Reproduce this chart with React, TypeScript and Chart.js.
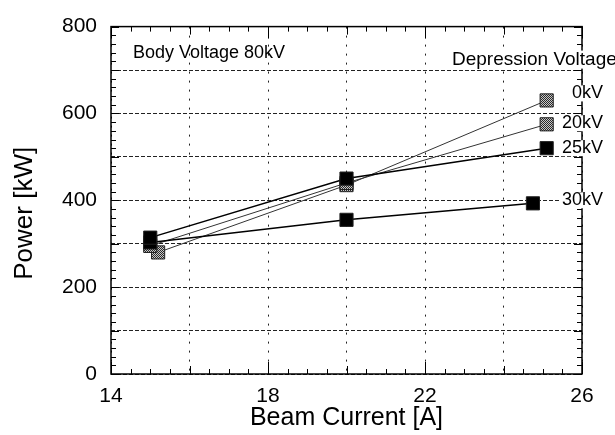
import React, { useEffect, useRef } from "react";
import { Chart, registerables } from "chart.js";

Chart.register(...registerables);

// ---- data ----
const seriesNames = ["25kV", "30kV", "20kV", "0kV"];
const current25 = [15, 20, 25.1];
const power25 = [314, 450, 520];
const current30 = [15, 20, 24.75];
const power30 = [303, 355, 393];
const current20 = [15, 20, 25.1];
const power20 = [295, 440, 575];
const current0 = [15.2, 20, 25.1];
const power0 = [280, 435, 630];
const xTickLabels = [14, 18, 22, 26];
const yTickLabels = [0, 200, 400, 600, 800];
const bodyVoltageText = "Body Voltage 80kV";
const depressionText = "Depression Voltage";
const xTitle = "Beam Current [A]";
const yTitle = "Power [kW]";

const FONT = '"Liberation Sans", Arial, Helvetica, sans-serif';

function greyPattern(): CanvasPattern | string {
  const c = document.createElement("canvas");
  c.width = 2;
  c.height = 2;
  const g = c.getContext("2d");
  if (!g) return "#888";
  g.fillStyle = "#c8c8c8";
  g.fillRect(0, 0, 2, 2);
  g.fillStyle = "#2a2a2a";
  g.fillRect(0, 0, 1, 1);
  g.fillRect(1, 1, 1, 1);
  const p = g.createPattern(c, "repeat");
  return p || "#888";
}

const labelNudge: Record<string, number> = { "0kV": -7, "20kV": -1, "25kV": 0, "30kV": -3 };

function textWithBg(ctx: CanvasRenderingContext2D, text: string, x: number, y: number, align: "left" | "right", h: number) {
  const w = ctx.measureText(text).width;
  const left = align === "left" ? x : x - w;
  ctx.fillStyle = "#fff";
  ctx.fillRect(left - 2, y - h / 2, w + 4, h);
  ctx.fillStyle = "#000";
  ctx.textAlign = align;
  ctx.fillText(text, x, y);
}

const framePlugin = {
  id: "frameAndText",
  afterDraw(chart: any) {
    const { ctx, chartArea: a, scales } = chart;
    const x = scales.x;
    const y = scales.y;
    ctx.save();
    ctx.setLineDash([]);
    ctx.strokeStyle = "#000";
    // inward ticks
    ctx.lineWidth = 1;
    ctx.beginPath();
    for (let i = 0; i <= 24; i++) {
      const v = 14 + i * 0.5;
      const px = Math.round(x.getPixelForValue(v)) + 0.5;
      const len = i % 8 === 0 ? 12 : i % 4 === 0 ? 8 : 5;
      ctx.moveTo(px, a.bottom);
      ctx.lineTo(px, a.bottom - len);
      ctx.moveTo(px, a.top);
      ctx.lineTo(px, a.top + len);
    }
    for (let i = 0; i <= 40; i++) {
      const v = i * 20;
      const py = Math.round(y.getPixelForValue(v)) + 0.5;
      const len = i % 5 === 0 ? 8 : 5;
      ctx.moveTo(a.left, py);
      ctx.lineTo(a.left + len, py);
      ctx.moveTo(a.right, py);
      ctx.lineTo(a.right - len, py);
    }
    ctx.stroke();
    // frame
    ctx.lineWidth = 1.5;
    ctx.strokeRect(a.left, a.top, a.right - a.left, a.bottom - a.top);

    // y axis title
    ctx.fillStyle = "#000";
    ctx.save();
    ctx.translate(a.left - 86, (a.top + a.bottom) / 2 + 13);
    ctx.rotate(-Math.PI / 2);
    ctx.font = `26px ${FONT}`;
    ctx.textAlign = "center";
    ctx.textBaseline = "middle";
    ctx.fillText(yTitle, 0, 0);
    ctx.restore();

    // annotations
    ctx.textAlign = "left";
    ctx.textBaseline = "alphabetic";
    ctx.font = `18px ${FONT}`;
    ctx.fillText(bodyVoltageText, a.left + 22, a.top + 31);
    ctx.font = `19px ${FONT}`;
    ctx.textBaseline = "middle";
    textWithBg(ctx, depressionText, a.right - 130, a.top + 33, "left", 18);

    ctx.font = `18px ${FONT}`;
    ctx.textBaseline = "middle";
    chart.data.datasets.forEach((ds: any, i: number) => {
      const meta = chart.getDatasetMeta(i);
      const last = meta.data[meta.data.length - 1];
      if (!last) return;
      textWithBg(ctx, ds.label, a.right + 21, last.y + (labelNudge[ds.label] || 0), "right", 16);
    });
    ctx.restore();
  },
};

export default function App() {
  const ref = useRef<HTMLCanvasElement | null>(null);

  useEffect(() => {
    if (!ref.current) return;
    Chart.defaults.font.family = FONT;
    const pat = greyPattern();
    const mk = (xs: number[], ys: number[]) => xs.map((v, i) => ({ x: v, y: ys[i] }));
    const styles = [
      { fill: "#000", line: "#000", w: 1.5 },
      { fill: "#000", line: "#000", w: 1.5 },
      { fill: pat, line: "#333", w: 1 },
      { fill: pat, line: "#333", w: 1 },
    ];
    const datas = [mk(current25, power25), mk(current30, power30), mk(current20, power20), mk(current0, power0)];
    const chart = new Chart(ref.current, {
      type: "scatter",
      data: {
        datasets: seriesNames.map((name, i) => ({
          label: name,
          data: datas[i],
          showLine: true,
          borderColor: styles[i].line,
          borderWidth: styles[i].w,
          backgroundColor: styles[i].fill as any,
          pointBackgroundColor: styles[i].fill as any,
          pointBorderColor: "#222",
          pointBorderWidth: 1,
          pointStyle: "rect",
          pointRadius: 9.3,
          pointHoverRadius: 9.3,
        })),
      },
      options: {
        animation: false,
        responsive: false,
        events: [],
        layout: { padding: { left: 0, right: 33, top: 23, bottom: 0 } },
        plugins: { legend: { display: false }, tooltip: { enabled: false } },
        scales: {
          x: {
            type: "linear",
            min: 14,
            max: 26,
            ticks: {
              stepSize: 2,
              autoSkip: false,
              maxRotation: 0,
              color: "#000",
              padding: 10,
              font: { size: 21, family: FONT },
              callback: (v: any) => (xTickLabels.includes(Number(v)) ? String(v) : ""),
            },
            grid: { color: "#222", lineWidth: 1, drawTicks: false },
            border: { display: false, dash: [2, 7] },
            title: {
              display: true,
              text: xTitle,
              color: "#000",
              font: { size: 25, family: FONT },
              padding: { top: 0, bottom: 2 },
            },
            afterFit: (s: any) => {
              s.height = 61;
            },
          },
          y: {
            type: "linear",
            min: 0,
            max: 800,
            ticks: {
              stepSize: 100,
              autoSkip: false,
              color: "#000",
              padding: 14,
              font: { size: 21, family: FONT },
              callback: (v: any) => (yTickLabels.includes(Number(v)) ? String(v) : ""),
            },
            grid: { color: "#222", lineWidth: 1, drawTicks: false },
            border: { display: false, dash: [4, 2] },
            title: { display: false },
            afterFit: (s: any) => {
              s.width = 111;
            },
          },
        },
      },
      plugins: [framePlugin],
    });
    return () => chart.destroy();
  }, []);

  return (
    <div style={{ position: "absolute", left: 0, top: 0, width: 615, height: 435, background: "#fff" }}>
      <canvas ref={ref} width={615} height={435} />
    </div>
  );
}
